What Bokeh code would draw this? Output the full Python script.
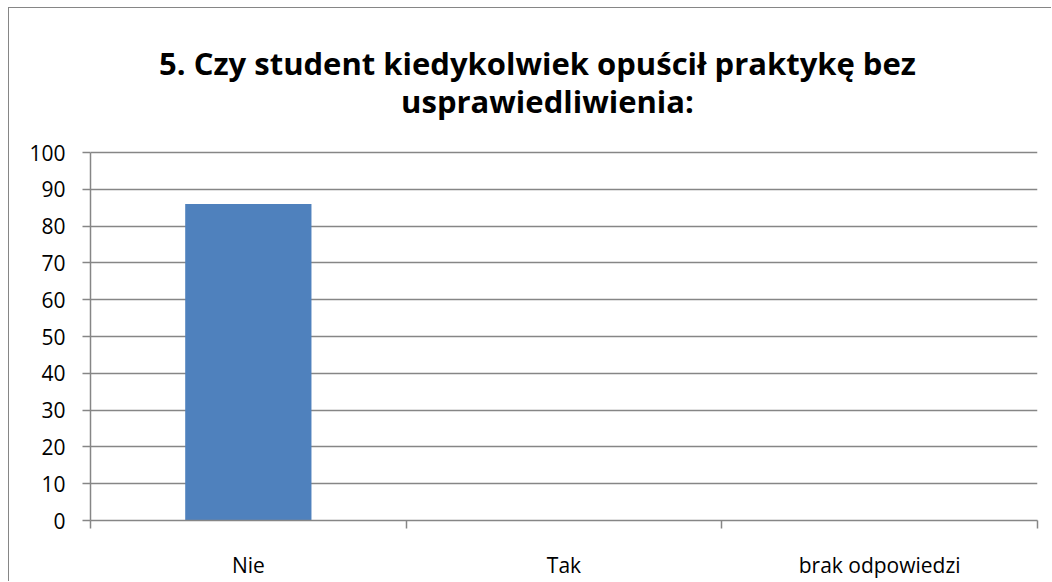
from bokeh.plotting import figure
from bokeh.models import Range1d, FixedTicker, Label, ColumnDataSource
from bokeh.embed import file_html
from bokeh.resources import INLINE

categories = ["Nie", "Tak", "brak odpowiedzi"]
values = [86, 0, 0]
y_ticks = [0, 10, 20, 30, 40, 50, 60, 70, 80, 90, 100]
title_line1 = "5. Czy student kiedykolwiek opuścił praktykę bez"
title_line2 = "usprawiedliwienia:"

FONT = "Open Sans"
GRID = "#868686"

# layout: frame fills canvas top; value axis 0..100 occupies the lower 368 px
FRAME_H = 512
AXIS_H = 368
Y_MAX = 100
Y_TOP = Y_MAX * FRAME_H / AXIS_H
PX = AXIS_H / Y_MAX          # pixels per value unit
CELL = (1037 - 90) / len(categories)  # pixels per category


def data_y(canvas_y):
    return (FRAME_H - canvas_y) / PX


def data_x(page_x):
    return (page_x - 90) / CELL


x_pos = [i + 0.5 for i in range(len(categories))]
src = ColumnDataSource(dict(x=x_pos, top=values, cat=categories))

p = figure(width=1043, height=574, output_backend="svg", toolbar_location=None,
           x_range=Range1d(0, len(categories)), y_range=Range1d(0, Y_TOP),
           min_border_left=81, min_border_right=15, min_border_bottom=62,
           min_border_top=0)
p.styles = {"border-left": "1px solid #868686", "border-top": "1px solid #868686",
            "margin-left": "8px", "margin-top": "7px"}
p.outline_line_color = None
p.background_fill_color = "white"
p.border_fill_color = "white"

p.vbar(x="x", top="top", width=0.4, bottom=0, source=src,
       fill_color="#4F81BD", line_color=None)

# two-line title
p.add_layout(Label(x=data_x(537), y=data_y(54), text=title_line1,
                   text_font=FONT, text_font_size="31px", text_font_style="bold",
                   text_color="black", text_align="center", text_baseline="alphabetic"))
p.add_layout(Label(x=data_x(547), y=data_y(92), text=title_line2,
                   text_font=FONT, text_font_size="31px", text_font_style="bold",
                   text_color="black", text_align="center", text_baseline="alphabetic"))

# y axis
p.yaxis.ticker = FixedTicker(ticks=y_ticks)
p.yaxis.bounds = (0, Y_MAX)
p.yaxis.axis_line_color = GRID
p.yaxis.axis_line_width = 1.5
p.yaxis.major_tick_line_color = GRID
p.yaxis.major_tick_line_width = 1.5
p.yaxis.major_tick_out = 8
p.yaxis.major_tick_in = 0
p.yaxis.minor_tick_line_color = None
p.yaxis.major_label_text_font = FONT
p.yaxis.major_label_text_font_size = "21px"
p.yaxis.major_label_text_color = "black"
p.yaxis.major_label_standoff = 17

# x axis: labels at centres, ticks at category boundaries
p.xaxis.ticker = FixedTicker(ticks=x_pos, minor_ticks=list(range(len(categories) + 1)))
p.xaxis.major_label_overrides = {x: c for x, c in zip(x_pos, categories)}
p.xaxis.axis_line_color = GRID
p.xaxis.axis_line_width = 1.5
p.xaxis.major_tick_line_color = None
p.xaxis.major_tick_out = 0
p.xaxis.major_tick_in = 0
p.xaxis.minor_tick_line_color = GRID
p.xaxis.minor_tick_line_width = 1.5
p.xaxis.minor_tick_out = 8
p.xaxis.minor_tick_in = 0
p.xaxis.major_label_text_font = FONT
p.xaxis.major_label_text_font_size = "21px"
p.xaxis.major_label_text_color = "black"
p.xaxis.major_label_standoff = 22

p.xgrid.grid_line_color = None
p.ygrid.grid_line_color = GRID
p.ygrid.grid_line_width = 1.5
p.ygrid.ticker = FixedTicker(ticks=y_ticks)

open("out.html", "w").write(file_html(p, INLINE))
